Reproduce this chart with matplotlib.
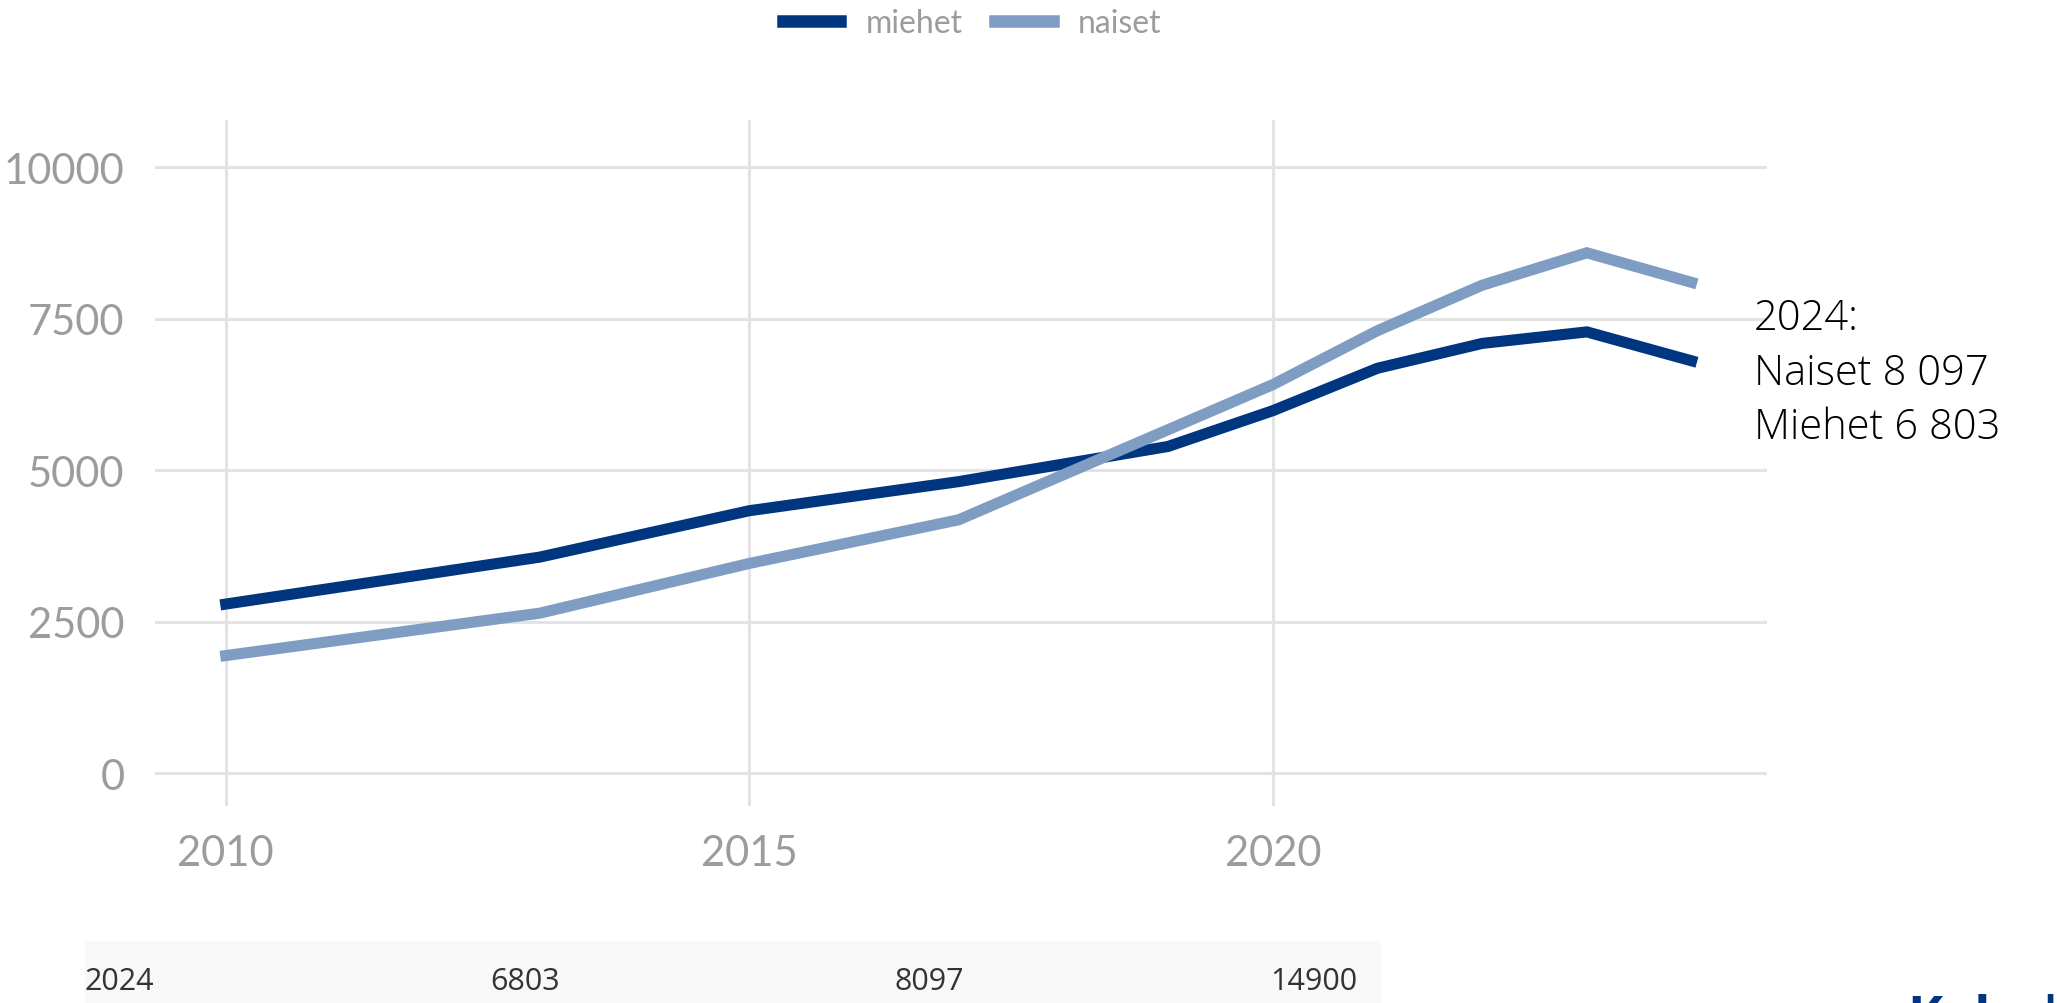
import matplotlib.pyplot as plt
from matplotlib.patches import Rectangle

# Data
years_miehet = [2010, 2013, 2015, 2017, 2019, 2020, 2021, 2022, 2023, 2024]
miehet = [2790, 3565, 4330, 4810, 5390, 5980, 6680, 7090, 7280, 6803]
years_naiset = [2010, 2013, 2015, 2017, 2020, 2021, 2022, 2023, 2024]
naiset = [1940, 2640, 3460, 4180, 6410, 7300, 8050, 8585, 8097]

y_ticks = [0, 2500, 5000, 7500, 10000]
x_ticks = [2010, 2015, 2020]
table_cells = ["2024", "6803", "8097", "14900"]
note = "2024:\nNaiset 8 097\nMiehet 6 803"

dark = "#003580"
light = "#7f9cc2"
grid = "#e3e3e3"
tick_col = "#9c9c9c"

fig = plt.figure(figsize=(20.57, 10.04), dpi=100)
ax = fig.add_axes([0.0754, 0.196, 0.7836, 0.6835])

ax.plot(years_miehet, miehet, color=dark, lw=8, label="miehet", solid_joinstyle="miter")
ax.plot(years_naiset, naiset, color=light, lw=8, label="naiset", solid_joinstyle="miter")

ax.set_xlim(2009.325, 2024.72)
ax.set_ylim(-545, 10776)
ax.set_xticks(x_ticks)
ax.set_yticks(y_ticks)
ax.grid(True, color=grid, lw=2.2)
ax.set_axisbelow(True)
for s in ax.spines.values():
    s.set_visible(False)
ax.tick_params(length=0, labelsize=30, labelcolor=tick_col)
ax.tick_params(axis="y", pad=22)
ax.tick_params(axis="x", pad=20)
for lab in ax.get_xticklabels() + ax.get_yticklabels():
    lab.set_fontfamily("Lato")

leg = fig.legend(loc="center", bbox_to_anchor=(0.4727, 0.976), ncol=2, frameon=False,
                 handlelength=1.8, handletextpad=0.8, columnspacing=1.0,
                 prop={"family": "Lato", "size": 23})
for t in leg.get_texts():
    t.set_color("#9c9c9c")
for h in leg.legend_handles:
    h.set_linewidth(9)

fig.text(1754 / 2057, 1 - 298 / 1004, note, ha="left", va="top", fontsize=30,
         family="Open Sans", fontweight="light", color="black", linespacing=1.36)

# bottom table strip
fig.patches.append(Rectangle((85 / 2057, 0), (1380 - 85) / 2057, 1 - 942 / 1004,
                             transform=fig.transFigure, color="#f8f8f8", zorder=0))
xs = [85, 490, 895, 1270]
for x, txt in zip(xs, table_cells):
    fig.text(x / 2057, 1 - 982 / 1004, txt, ha="left", va="center", fontsize=22,
             family="Open Sans", color="#333333")

# logo, cut off at the bottom edge
fig.text(1908 / 2057, 1 - 994 / 1004, "Kela | Fpa", ha="left", va="top", fontsize=38,
         family="Open Sans", fontweight="bold", color=dark)

fig.savefig("out.png", dpi=100)
